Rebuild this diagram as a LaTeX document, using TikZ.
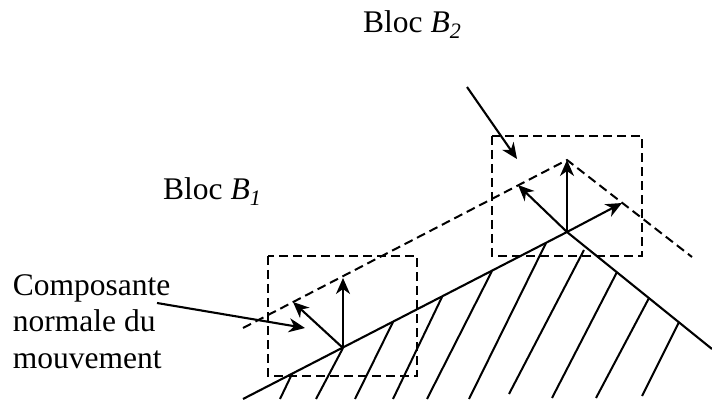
\documentclass[tikz,border=0pt]{standalone}
\usepackage{fontspec}
\setmainfont{Liberation Serif}
\usetikzlibrary{arrows.meta}

\begin{document}
\begin{tikzpicture}[x=1pt,y=-1pt,
		ground/.style={line width=2.1pt},
		hatch/.style={line width=2pt},
		zone/.style={line width=2pt,dash pattern=on 9pt off 5pt},
		vec/.style={line width=2.1pt,-{Stealth[length=16pt,width=14pt,inset=5pt]}},
		lbl/.style={font=\fontsize{31.5}{36.6}\selectfont,inner sep=0pt}
		]
		\useasboundingbox (0,0) rectangle (712,403);
		
		% Relief
		\coordinate (gl) at (243,399);
		\coordinate (apex) at (567,232);
		\coordinate (gr) at (712,349);
		\draw[ground] (gl) -- (apex) -- (gr);
		
		% Hachures
		\foreach \xa/\ya/\xb/\yb in {292/374/280/399, 343/348/316/399, 393/322/355/399,
			442/297/393/399, 492/271/427/399, 546/243/469/399, 584/250/509/394,
			617/272/552/398, 649/298/596/398, 679/322/642/396}
		\draw[hatch] (\xa,\ya) -- (\xb,\yb);
		
		% Blocs (zones en pointille)
		\draw[zone] (268,256) rectangle (417,376);
		\draw[zone] (492,136) rectangle (642,256);
		
		% Surface deplacee
		\coordinate (sl) at (243,328);
		\coordinate (stop) at (567,160);
		\coordinate (sr) at (692,257);
		\draw[zone] (sl) -- (stop) -- (sr);
		
		% Vecteurs du bloc 1
		\coordinate (p1) at (343,348);
		\coordinate (up1) at (343,278);
		\coordinate (nor1) at (293,302);
		\draw[vec] (p1) -- (up1);
		\draw[vec] (p1) -- (nor1);
		
		% Vecteurs du bloc 2
		\coordinate (nor2) at (518,185);
		\coordinate (tan2) at (622,203);
		\draw[vec] (apex) -- (stop);
		\draw[vec] (apex) -- (nor2);
		\draw[vec] (apex) -- (tan2);
		
		% Textes
		\node[lbl,anchor=base west] (bloc1) at (163,200) {Bloc \textit{B\textsubscript{1}}};
		\node[lbl,anchor=base west] (bloc2) at (363,32.5) {Bloc \textit{B\textsubscript{2}}};
		\node[lbl,anchor=base west,align=left] (normale) at (12.7,368.3) {Composante\\normale du\\mouvement};
		
		% Fleches d'indication
		\coordinate (from1) at (157,303);
		\coordinate (to1) at (305,328);
		\draw[vec] (from1) -- (to1);
		\coordinate (from2) at (467,87);
		\coordinate (to2) at (517,159);
		\draw[vec] (from2) -- (to2);
		
	\end{tikzpicture}
\end{document}
